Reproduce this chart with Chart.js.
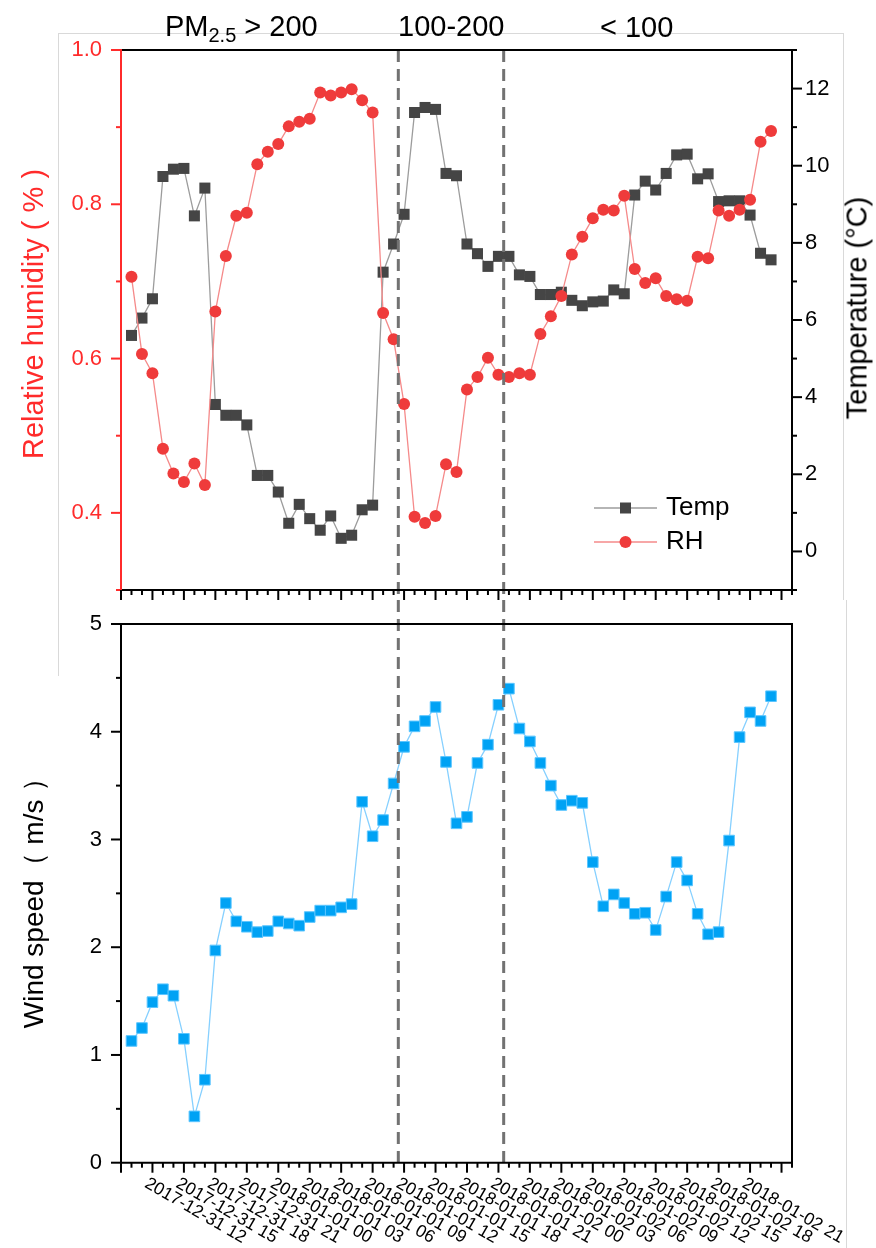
<!DOCTYPE html>
<html>
<head>
<meta charset="utf-8">
<title>PM2.5 periods: RH, temperature and wind speed</title>
<script src="https://cdn.jsdelivr.net/npm/chart.js@4.4.1/dist/chart.umd.min.js"></script>
<style>
  html, body { margin:0; padding:0; background:#fff; }
  #wrap { position:relative; width:876px; height:1248px; overflow:hidden; background:#fff;
          font-family:"Liberation Sans", Arial, sans-serif; color:#000; }
  #top { position:absolute; left:0; top:0; }
  #bot { position:absolute; left:0; top:600px; }
  .lbl { position:absolute; white-space:nowrap; font-size:29px; line-height:29px; }
  .vt { position:absolute; white-space:nowrap; font-size:29px; line-height:29px;
        transform:translate(-50%,-50%) rotate(-90deg); }
  .edge { position:absolute; background:#d9d9d9; }
</style>
</head>
<body>
<div id="wrap">
  <div class="edge" style="left:58px;top:33px;width:785px;height:1px"></div>
  <div class="edge" style="left:58px;top:33px;width:1px;height:643px"></div>
  <div class="edge" style="left:843px;top:33px;width:1px;height:567px"></div>
  <div class="edge" style="left:846px;top:600px;width:1px;height:648px"></div>
  <canvas id="top" width="876" height="600"></canvas>
  <canvas id="bot" width="876" height="648"></canvas>
  <div class="lbl" style="left:165px;top:12px">PM<span style="font-size:20px;position:relative;top:6px">2.5</span> &gt; 200</div>
  <div class="lbl" style="left:398px;top:12px">100-200</div>
  <div class="lbl" style="left:600px;top:13px">&lt; 100</div>
  <div class="vt" style="left:33px;top:314px;color:#FF2B2B">Relative humidity ( % )</div>
  <div class="vt" style="left:857px;top:308px">Temperature (°C)</div>
  <div class="vt" style="left:33px;top:896px;font-size:28px">Wind speed（ m/s ）</div>
</div>
<script>
// ---- data (hours after 2017-12-31 09:00) ----
const hours = [1,2,3,4,5,6,7,8,9,10,11,12,13,14,15,16,17,18,19,20,21,22,23,24,25,26,27,28,29,30,31,
  32,33,34,35,36,37,38,39,40,41,42,43,44,45,46,47,48,49,50,51,52,53,54,55,56,57,58,59,60,61,62];
const rh = [0.706,0.606,0.581,0.483,0.451,0.440,0.464,0.436,0.661,0.733,
  0.785,0.789,0.852,0.868,0.878,0.901,0.907,0.911,0.945,0.941,
  0.945,0.949,0.935,0.919,0.659,0.625,0.541,0.395,0.387,0.396,
  0.463,0.453,0.560,0.576,0.601,0.579,0.576,0.581,0.579,0.632,
  0.655,0.681,0.735,0.758,0.782,0.793,0.792,0.811,0.716,0.698,
  0.704,0.681,0.677,0.675,0.732,0.730,0.792,0.785,0.793,0.806,
  0.881,0.895];
const temp = [5.60,6.05,6.55,9.72,9.91,9.93,8.70,9.42,3.81,3.53,
  3.53,3.28,1.97,1.97,1.54,0.73,1.22,0.85,0.55,0.92,
  0.34,0.42,1.08,1.20,7.24,7.97,8.74,11.38,11.51,11.46,
  9.80,9.74,7.97,7.72,7.39,7.65,7.65,7.17,7.13,6.66,
  6.66,6.72,6.51,6.37,6.47,6.49,6.78,6.68,9.24,9.60,
  9.37,9.80,10.28,10.30,9.66,9.79,9.07,9.09,9.09,8.72,
  7.73,7.56];
const wind = [1.13,1.25,1.49,1.61,1.55,1.15,0.43,0.77,1.97,2.41,
  2.24,2.19,2.14,2.15,2.24,2.22,2.20,2.28,2.34,2.34,
  2.37,2.40,3.35,3.03,3.18,3.52,3.86,4.05,4.10,4.23,
  3.72,3.15,3.21,3.71,3.88,4.25,4.40,4.03,3.91,3.71,
  3.50,3.32,3.36,3.34,2.79,2.38,2.49,2.41,2.31,2.32,
  2.16,2.47,2.79,2.62,2.31,2.12,2.14,2.99,3.95,4.18,
  4.10,4.33];
const tickHours = [3,6,9,12,15,18,21,24,27,30,33,36,39,42,45,48,51,54,57,60];
const tickLabels = ['2017-12-31 12','2017-12-31 15','2017-12-31 18','2017-12-31 21',
  '2018-01-01 00','2018-01-01 03','2018-01-01 06','2018-01-01 09','2018-01-01 12',
  '2018-01-01 15','2018-01-01 18','2018-01-01 21','2018-01-02 00','2018-01-02 03',
  '2018-01-02 06','2018-01-02 09','2018-01-02 12','2018-01-02 15','2018-01-02 18',
  '2018-01-02 21'];
const dividerHours = [26.45, 36.5];
const seriesNames = ['RH', 'Temp', 'Wind speed'];

// ---- styling ----
const FONT = '"Liberation Sans", Arial, sans-serif';
const RED = '#FF2B2B';
const COL = {
  rhPt: '#EF3B3B', rhLine: '#F58A8A',
  tPt: '#454545', tLine: '#9C9C9C',
  wPt: '#00A2F4', wEdge: '#5CC6FF', wLine: '#86D0FF'
};

function pts(vals) { return hours.map((h, i) => ({ x: h, y: vals[i] })); }

function xScale(h) {
  return {
    type: 'linear', position: 'bottom', min: 0, max: 64,
    ticks: { display: false, stepSize: 1, maxTicksLimit: 200, autoSkip: false },
    grid: { display: false, drawTicks: false }, border: { display: false },
    afterFit: s => { s.height = h; s.paddingLeft = 0; s.paddingRight = 0; s.paddingTop = 0; s.paddingBottom = 0; }
  };
}
function yScale(pos, min, max, step, w, pad, color, labelFn) {
  return {
    type: 'linear', position: pos, min: min, max: max,
    ticks: { stepSize: step, autoSkip: false, padding: pad, color: color,
             font: { family: FONT, size: 22 }, callback: labelFn },
    grid: { display: false, drawTicks: false }, border: { display: false },
    afterFit: s => { s.width = w; s.paddingTop = 0; s.paddingBottom = 0; s.paddingLeft = 0; s.paddingRight = 0; }
  };
}

const isMajorRH = v => Math.round(v * 10) % 2 === 0;
const isMajorT = v => Math.round(v) % 2 === 0;
const isMajorW = v => Math.abs(v - Math.round(v)) < 1e-6;
const isMajorX = v => Math.round(v) % 3 === 0;

function tickMarks(ctx, scale, isMajor, side, color) {
  ctx.save();
  ctx.strokeStyle = color; ctx.lineWidth = 2;
  scale.ticks.forEach(t => {
    const p = scale.getPixelForValue(t.value);
    const len = isMajor(t.value) ? 10 : 5;
    ctx.beginPath();
    if (side === 'left') { ctx.moveTo(scale.right, p); ctx.lineTo(scale.right - len, p); }
    else if (side === 'right') { ctx.moveTo(scale.left, p); ctx.lineTo(scale.left + len, p); }
    else { ctx.moveTo(p, scale.top); ctx.lineTo(p, scale.top + len); }
    ctx.stroke();
  });
  ctx.restore();
}
function frame(ctx, a, leftColor) {
  ctx.save();
  ctx.lineWidth = 2; ctx.strokeStyle = '#000';
  ctx.beginPath();
  ctx.moveTo(a.left, a.top); ctx.lineTo(a.right, a.top);
  ctx.lineTo(a.right, a.bottom); ctx.lineTo(a.left, a.bottom);
  ctx.stroke();
  ctx.strokeStyle = leftColor;
  ctx.beginPath(); ctx.moveTo(a.left, a.top - 1); ctx.lineTo(a.left, a.bottom + 1); ctx.stroke();
  ctx.restore();
}
function dividers(ctx, xs, y0, y1) {
  ctx.save();
  ctx.strokeStyle = '#727272'; ctx.lineWidth = 3; ctx.setLineDash([12, 7]);
  dividerHours.forEach(h => {
    const x = xs.getPixelForValue(h);
    ctx.beginPath(); ctx.moveTo(x, y0); ctx.lineTo(x, y1); ctx.stroke();
  });
  ctx.restore();
}

const topDecor = {
  id: 'topDecor',
  afterDatasetsDraw(chart) {
    const ctx = chart.ctx, a = chart.chartArea, s = chart.scales;
    dividers(ctx, s.x, a.top, chart.height);
    frame(ctx, a, RED);
    tickMarks(ctx, s.y, isMajorRH, 'left', RED);
    tickMarks(ctx, s.yT, isMajorT, 'right', '#000');
    tickMarks(ctx, s.x, isMajorX, 'bottom', '#000');
    // legend
    const rows = [
      { ds: chart.data.datasets[1], y: a.top + 458, shape: 'rect' },
      { ds: chart.data.datasets[0], y: a.top + 492, shape: 'circle' }
    ];
    const x0 = a.left + 473, x1 = a.left + 536, xm = a.left + 504.5;
    ctx.save();
    rows.forEach(r => {
      ctx.strokeStyle = r.ds.borderColor; ctx.lineWidth = 1.3;
      ctx.beginPath(); ctx.moveTo(x0, r.y); ctx.lineTo(x1, r.y); ctx.stroke();
      ctx.fillStyle = r.ds.pointBackgroundColor;
      ctx.beginPath();
      if (r.shape === 'rect') ctx.rect(xm - 5.5, r.y - 5.5, 11, 11);
      else ctx.arc(xm, r.y, 6, 0, Math.PI * 2);
      ctx.fill();
      ctx.fillStyle = '#000'; ctx.font = '26px ' + FONT;
      ctx.textAlign = 'left'; ctx.textBaseline = 'middle';
      ctx.fillText(r.ds.label, a.left + 545, r.y);
    });
    ctx.restore();
  }
};

const botDecor = {
  id: 'botDecor',
  afterDatasetsDraw(chart) {
    const ctx = chart.ctx, a = chart.chartArea, s = chart.scales;
    dividers(ctx, s.x, 0, a.bottom);
    frame(ctx, a, '#000');
    tickMarks(ctx, s.y, isMajorW, 'left', '#000');
    tickMarks(ctx, s.x, isMajorX, 'bottom', '#000');
    ctx.save();
    ctx.fillStyle = '#000'; ctx.font = '17.5px ' + FONT;
    ctx.textAlign = 'left'; ctx.textBaseline = 'top';
    tickHours.forEach((h, i) => {
      const x = s.x.getPixelForValue(h);
      ctx.save();
      ctx.translate(x - 2, a.bottom + 12);
      ctx.rotate(Math.PI / 6);
      ctx.fillText(tickLabels[i], 0, 0);
      ctx.restore();
    });
    ctx.restore();
  }
};

const common = {
  responsive: false, animation: false, events: [],
  plugins: { legend: { display: false }, tooltip: { enabled: false } }
};

new Chart(document.getElementById('top'), {
  type: 'line',
  data: {
    datasets: [
      { label: seriesNames[0], data: pts(rh), yAxisID: 'y',
        borderColor: COL.rhLine, borderWidth: 1.3, tension: 0,
        pointStyle: 'circle', pointRadius: 6, pointBackgroundColor: COL.rhPt,
        pointBorderColor: COL.rhPt, pointBorderWidth: 0 },
      { label: 'Temp', data: pts(temp), yAxisID: 'yT',
        borderColor: COL.tLine, borderWidth: 1.3, tension: 0,
        pointStyle: 'rect', pointRadius: 7.8, pointBackgroundColor: COL.tPt,
        pointBorderColor: COL.tPt, pointBorderWidth: 0 }
    ]
  },
  options: Object.assign({}, common, {
    layout: { padding: { top: 50, left: 0, right: 0, bottom: 0 } },
    scales: {
      x: xScale(10),
      y: yScale('left', 0.3, 1.0, 0.1, 121, 19, RED, v => isMajorRH(v) ? v.toFixed(1) : ''),
      yT: yScale('right', -1, 13, 1, 84, 13, '#000', v => isMajorT(v) ? String(Math.round(v)) : '')
    }
  }),
  plugins: [topDecor]
});

new Chart(document.getElementById('bot'), {
  type: 'line',
  data: {
    datasets: [
      { label: seriesNames[2], data: pts(wind), yAxisID: 'y',
        borderColor: COL.wLine, borderWidth: 1.3, tension: 0,
        pointStyle: 'rect', pointRadius: 7.5, pointBackgroundColor: COL.wPt,
        pointBorderColor: COL.wEdge, pointBorderWidth: 1 }
    ]
  },
  options: Object.assign({}, common, {
    layout: { padding: { top: 24, left: 0, right: 84, bottom: 0 } },
    scales: {
      x: xScale(85.3),
      y: yScale('left', 0, 5, 0.5, 121, 19, '#000', v => isMajorW(v) ? String(Math.round(v)) : '')
    }
  }),
  plugins: [botDecor]
});
</script>
</body>
</html>
